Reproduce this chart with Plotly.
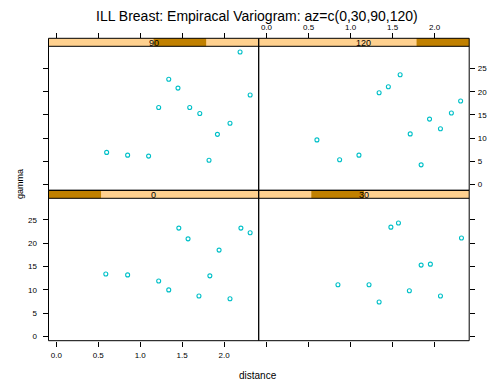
import plotly.graph_objects as go

# ---------------- data ----------------
az_levels = ["0", "30", "90", "120"]

dist_0 = [0.59, 0.85, 1.22, 1.34, 1.46, 1.57, 1.70, 1.83, 1.94, 2.07, 2.20, 2.31]
gamma_0 = [13.4, 13.2, 11.9, 10.0, 23.2, 20.9, 8.7, 13.0, 18.5, 8.1, 23.2, 22.2]

dist_30 = [0.85, 1.22, 1.34, 1.48, 1.57, 1.70, 1.84, 1.95, 2.07, 2.32]
gamma_30 = [11.1, 11.1, 7.4, 23.4, 24.3, 9.8, 15.3, 15.5, 8.7, 21.1]

dist_90 = [0.60, 0.85, 1.10, 1.22, 1.34, 1.45, 1.59, 1.71, 1.82, 1.92, 2.07, 2.19, 2.31]
gamma_90 = [6.9, 6.3, 6.1, 16.6, 22.7, 20.8, 16.6, 15.3, 5.2, 10.8, 13.2, 28.6, 19.3]

dist_120 = [0.60, 0.87, 1.10, 1.34, 1.45, 1.59, 1.71, 1.84, 1.94, 2.07, 2.20, 2.31]
gamma_120 = [9.6, 5.3, 6.3, 19.8, 21.1, 23.7, 10.9, 4.2, 14.1, 12.0, 15.4, 18.0]

x_ticks = [0.0, 0.5, 1.0, 1.5, 2.0]
x_ticklabels = ["0.0", "0.5", "1.0", "1.5", "2.0"]
y_ticks = [0, 5, 10, 15, 20, 25]
y_ticklabels = ["0", "5", "10", "15", "20", "25"]

title_text = "ILL Breast: Empiracal Variogram: az=c(0,30,90,120)"
x_title = "distance"
y_title = "gamma"

# ---------------- layout geometry (window pixels) ----------------
OFF = 8  # page body margin offset of the figure inside the window
W, H = 495 - OFF, 385 - OFF
def fx(p):
    return (p - OFF) / W
def fy(p):
    return 1 - (p - OFF) / H

col_x = [(48.5, 258.7), (258.7, 469.2)]
# rows: (strip top, strip bottom, panel bottom)
row_top = (38.3, 46.3, 190.3)
row_bot = (190.3, 198.3, 340.7)

XR = [-0.093, 2.412]
YR_top = [-1.30, 29.84]
YR_bot = [-0.86, 29.57]

STRIP_BG = "#FFD18F"
STRIP_FG = "#C08000"
PT_COL = "#00C0C8"
FONT = "Liberation Sans, Arial, sans-serif"

panels = [
    ("x", "y", 0, row_bot, 0, dist_0, gamma_0),
    ("x2", "y2", 1, row_bot, 1, dist_30, gamma_30),
    ("x3", "y3", 0, row_top, 2, dist_90, gamma_90),
    ("x4", "y4", 1, row_top, 3, dist_120, gamma_120),
]

fig = go.Figure()
shapes = []
annotations = []
for xa, ya, c, r, lvl, xs, ys in panels:
    fig.add_trace(go.Scatter(
        x=xs, y=ys, xaxis=xa, yaxis=ya, mode="markers",
        marker=dict(symbol="circle-open", size=4, color=PT_COL,
                    line=dict(width=1.1, color=PT_COL)),
        hoverinfo="skip", showlegend=False))
    x0, x1 = col_x[c]
    st, sb, pb = r
    w = x1 - x0
    shapes.append(dict(type="rect", xref="paper", yref="paper",
                       x0=fx(x0), x1=fx(x1), y0=fy(sb), y1=fy(st),
                       fillcolor=STRIP_BG, line=dict(width=0), layer="below"))
    shapes.append(dict(type="rect", xref="paper", yref="paper",
                       x0=fx(x0 + w * lvl / 4), x1=fx(x0 + w * (lvl + 1) / 4),
                       y0=fy(sb), y1=fy(st),
                       fillcolor=STRIP_FG, line=dict(width=0), layer="below"))
    annotations.append(dict(text=az_levels[lvl], xref="paper", yref="paper",
                            x=fx(x0 + w / 2), y=fy((st + sb) / 2 + 0.3),
                            xanchor="center", yanchor="middle", showarrow=False,
                            font=dict(family=FONT, size=9, color="black")))

for xa, ya, c, r, lvl, xs, ys in panels:
    x0, x1 = col_x[c]
    st, sb, pb = r
    shapes.append(dict(type="rect", xref="paper", yref="paper",
                       x0=fx(x0), x1=fx(x1), y0=fy(pb), y1=fy(st),
                       line=dict(width=1, color="black"), layer="above"))
    shapes.append(dict(type="line", xref="paper", yref="paper",
                       x0=fx(x0), x1=fx(x1), y0=fy(sb), y1=fy(sb),
                       line=dict(width=1, color="black"), layer="above"))

tickfont = dict(family=FONT, size=8, color="black")
common_x = dict(range=XR, tickvals=x_ticks, ticktext=x_ticklabels,
                ticks="outside", ticklen=5, tickwidth=1, tickcolor="black",
                showgrid=False, zeroline=False, showline=False, tickfont=tickfont)
common_y = dict(tickvals=y_ticks, ticktext=y_ticklabels,
                ticks="outside", ticklen=5, tickwidth=1, tickcolor="black",
                showgrid=False, zeroline=False, showline=False, tickfont=tickfont)

dom_l = [fx(col_x[0][0]), fx(col_x[0][1])]
dom_r = [fx(col_x[1][0]), fx(col_x[1][1])]
dom_top = [fy(row_top[2]), fy(row_top[1])]
dom_bot = [fy(row_bot[2]), fy(row_bot[1])]

fig.update_layout(
    width=W, height=H,
    margin=dict(l=0, r=0, t=0, b=0),
    paper_bgcolor="white", plot_bgcolor="white",
    showlegend=False,
    xaxis=dict(domain=dom_l, anchor="y", side="bottom", showticklabels=True,
               ticklabelstandoff=2, **common_x),
    xaxis2=dict(domain=dom_r, anchor="y2", side="bottom", showticklabels=False, **common_x),
    xaxis3=dict(domain=dom_l, anchor="free", position=fy(row_top[0]), side="top",
                showticklabels=False, **common_x),
    xaxis4=dict(domain=dom_r, anchor="free", position=fy(row_top[0]), side="top",
                showticklabels=True, ticklabelstandoff=0, **common_x),
    yaxis=dict(domain=dom_bot, anchor="x", side="left", range=YR_bot,
               showticklabels=True, ticklabelstandoff=4, **common_y),
    yaxis2=dict(domain=dom_bot, anchor="x2", side="right", range=YR_bot,
                showticklabels=False, **common_y),
    yaxis3=dict(domain=dom_top, anchor="x3", side="left", range=YR_top,
                showticklabels=False, **common_y),
    yaxis4=dict(domain=dom_top, anchor="x4", side="right", range=YR_top,
                showticklabels=True, ticklabelstandoff=1, **common_y),
    shapes=shapes,
    annotations=annotations + [
        dict(text=title_text, xref="paper", yref="paper", x=fx(257), y=fy(16),
             xanchor="center", yanchor="middle", showarrow=False,
             font=dict(family=FONT, size=14, color="black")),
        dict(text=x_title, xref="paper", yref="paper", x=fx(258), y=fy(375),
             xanchor="center", yanchor="middle", showarrow=False,
             font=dict(family=FONT, size=10, color="black")),
        dict(text=y_title, xref="paper", yref="paper", x=fx(20), y=fy(184),
             xanchor="center", yanchor="middle", showarrow=False, textangle=-90,
             font=dict(family=FONT, size=9, color="black")),
    ],
)

fig.write_html("out.html")
